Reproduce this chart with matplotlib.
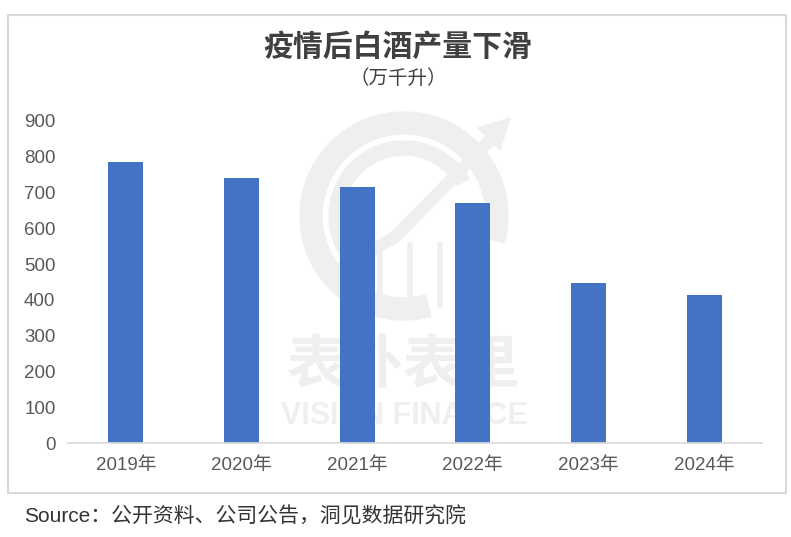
import matplotlib
matplotlib.use("Agg")
import matplotlib.pyplot as plt
from matplotlib.patches import Rectangle, Wedge, Polygon

years = ["2019年", "2020年", "2021年", "2022年", "2023年", "2024年"]
production = [785, 741, 716, 670, 448, 413]
yticks = [0, 100, 200, 300, 400, 500, 600, 700, 800, 900]

title = "疫情后白酒产量下滑"
subtitle = "（万千升）"
source = "Source：公开资料、公司公告，洞见数据研究院"

plt.rcParams['font.family'] = ['Liberation Sans', 'Noto Sans CJK SC', 'DejaVu Sans']

W, H = 791, 537
fig = plt.figure(figsize=(W / 100, H / 100), dpi=100)
fig.patch.set_facecolor("white")

# overlay in pixel coordinates for frame and watermark
bg = fig.add_axes([0, 0, 1, 1], zorder=0)
bg.set_xlim(0, W)
bg.set_ylim(H, 0)
bg.axis("off")
bg.add_patch(Rectangle((8, 15), 778, 478, fill=False,
                       edgecolor="#d9d9d9", linewidth=1.5))
wm = "#efefef"
bg.add_patch(Wedge((404, 216), 104, 75, 15, width=22, color=wm))
bg.add_patch(Wedge((404, 216), 75, 120, 330, width=14, color=wm))
bg.plot([330, 395, 495], [275, 237, 135], color=wm, linewidth=9,
        solid_capstyle="butt")
bg.add_patch(Polygon([[510, 118], [478, 128], [500, 150]], closed=True, color=wm))
for bx in [380, 410, 440, 470]:
    bg.plot([bx, bx], [245, 305], color=wm, linewidth=4)
bg.text(404, 366, "表外表里", ha="center", va="center",
        fontsize=42, fontweight="bold", color=wm,
        family=['Noto Sans CJK SC'])
bg.text(404, 416, "VISION FINANCE", ha="center", va="center",
        fontsize=22, fontweight="bold", color=wm)

ax = fig.add_axes([68 / W, 1 - 443 / H, (762 - 68) / W, (443 - 121) / H], zorder=1)
ax.patch.set_alpha(0)
x = range(len(years))
ax.bar(x, production, width=0.3, color="#4472C4", zorder=2)
ax.set_xlim(-0.5, len(years) - 0.5)
ax.set_ylim(0, 900)
ax.set_yticks(yticks)
ax.set_yticklabels([str(v) for v in yticks])
ax.set_xticks(list(x))
ax.set_xticklabels(years)
for s in ["top", "right", "left"]:
    ax.spines[s].set_visible(False)
ax.spines["bottom"].set_color("#d9d9d9")
ax.spines["bottom"].set_linewidth(1.2)
ax.tick_params(axis="both", length=0, labelsize=13.5, colors="#595959")
ax.tick_params(axis="y", pad=9)
ax.tick_params(axis="x", pad=10)

fig.text(398 / W, 1 - 47 / H, title, ha="center", va="center",
         fontsize=21.5, fontweight="bold", color="#404040",
         family=['Noto Sans CJK SC'])
fig.text(398 / W, 1 - 78 / H, subtitle, ha="center", va="center",
         fontsize=14, color="#404040", family=['Noto Sans CJK SC'])
fig.text(24 / W, 1 - 516 / H, source, ha="left", va="center",
         fontsize=15, color="#333333",
         family=['Liberation Sans', 'Noto Sans CJK SC'])

fig.savefig("out.png", dpi=100)
